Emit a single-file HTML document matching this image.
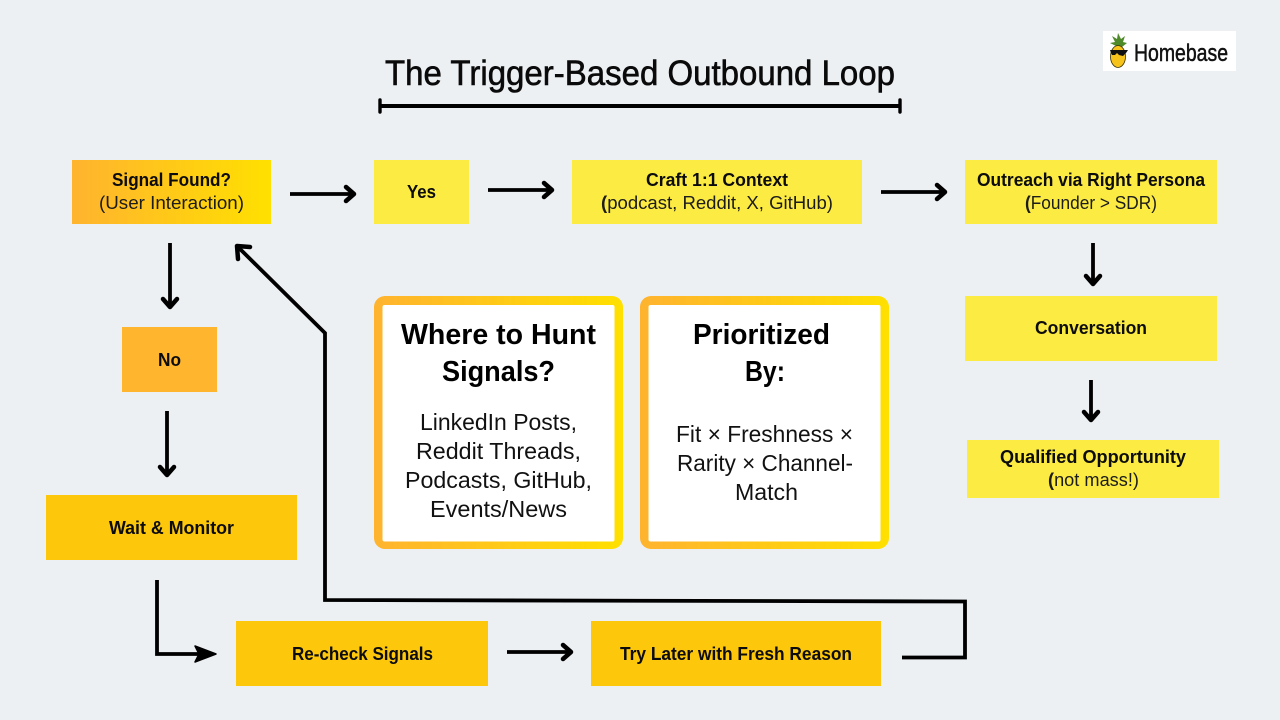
<!DOCTYPE html>
<html><head><meta charset="utf-8"><style>
html,body{margin:0;padding:0;background:#ecf0f3}
svg{display:block}
text{font-family:"Liberation Sans",sans-serif;fill:#0c0c0c}
.b{font-weight:700;font-size:18.500px}
.r{font-size:18.500px;fill:#1c1c1c}
.h{font-weight:700;font-size:29px;fill:#000}
.m{font-size:23.500px;fill:#111}
.a{fill:none;stroke:#000;stroke-width:3.800}
.h1{fill:none;stroke:#000;stroke-width:4.500;stroke-linecap:round;stroke-linejoin:round}
</style></head><body>
<svg width="1280" height="720" viewBox="0 0 1280 720" xmlns="http://www.w3.org/2000/svg">
<defs>
<linearGradient id="g"><stop offset="0" stop-color="#ffb32f"/><stop offset="1" stop-color="#ffe000"/></linearGradient>
</defs>
<rect width="1280" height="720" fill="#ecf0f3"/>

<!-- logo -->
<rect x="1103" y="31" width="133" height="40" fill="#fff"/>
<path d="M1118 47L1110 43L1115 42L1112 36L1117 39L1118 33L1121 39L1125 36L1123 42L1127 43L1122 47Z" fill="#4f8a2a"/>
<ellipse cx="1118" cy="56.500" rx="7.500" ry="11" fill="#f6c21c" stroke="#3a3000" stroke-width=".8"/>
<path d="M1110 50H1128L1126 53L1123 56L1119 55L1117 53L1115 55L1112 55L1111 53Z" fill="#111"/>
<text x="1134" y="61" font-size="24" textLength="94" lengthAdjust="spacingAndGlyphs" style="fill:#111;stroke:#111;stroke-width:.5">Homebase</text>

<!-- title -->
<text x="385" y="85" font-size="35" textLength="510" lengthAdjust="spacingAndGlyphs" style="fill:#0a0a0a;stroke:#0a0a0a;stroke-width:.6">The Trigger-Based Outbound Loop</text>
<path d="M380 106H900" stroke="#000" stroke-width="4" fill="none"/>
<path d="M380 100V112M900 100V112" stroke="#000" stroke-width="3.400" stroke-linecap="round" fill="none"/>

<!-- boxes -->
<rect x="72" y="160" width="199" height="64" fill="url(#g)"/>
<rect x="374" y="160" width="95" height="64" fill="#fceb42"/>
<rect x="572" y="160" width="290" height="64" fill="#fceb42"/>
<rect x="965" y="160" width="252" height="64" fill="#fceb42"/>
<rect x="965" y="296" width="252" height="65" fill="#fceb42"/>
<rect x="967" y="440" width="252" height="58" fill="#fceb42"/>
<rect x="122" y="327" width="95" height="65" fill="#ffb52e"/>
<rect x="46" y="495" width="251" height="65" fill="#fdc70c"/>
<rect x="236" y="621" width="252" height="65" fill="#fdc70c"/>
<rect x="591" y="621" width="290" height="65" fill="#fdc70c"/>

<!-- box text -->
<text class="b" x="112" y="186" textLength="119" lengthAdjust="spacingAndGlyphs">Signal Found?</text>
<text class="r" x="99" y="209" textLength="145" lengthAdjust="spacingAndGlyphs">(User Interaction)</text>
<text class="b" x="407" y="198" textLength="29" lengthAdjust="spacingAndGlyphs">Yes</text>
<text class="b" x="646" y="186" textLength="142" lengthAdjust="spacingAndGlyphs">Craft 1:1 Context</text>
<text class="r" x="601" y="209" textLength="232" lengthAdjust="spacingAndGlyphs"><tspan font-weight="700">(</tspan>podcast, Reddit, X, GitHub)</text>
<text class="b" x="977" y="186" textLength="228" lengthAdjust="spacingAndGlyphs">Outreach via Right Persona</text>
<text class="r" x="1025" y="209" textLength="132" lengthAdjust="spacingAndGlyphs"><tspan font-weight="700">(</tspan>Founder &gt; SDR)</text>
<text class="b" x="1035" y="334" textLength="112" lengthAdjust="spacingAndGlyphs">Conversation</text>
<text class="b" x="1000" y="463" textLength="186" lengthAdjust="spacingAndGlyphs">Qualified Opportunity</text>
<text class="r" x="1048" y="486" textLength="91" lengthAdjust="spacingAndGlyphs"><tspan font-weight="700">(</tspan>not mass!)</text>
<text class="b" x="158" y="366" textLength="23" lengthAdjust="spacingAndGlyphs">No</text>
<text class="b" x="109" y="534" textLength="125" lengthAdjust="spacingAndGlyphs">Wait &amp; Monitor</text>
<text class="b" x="292" y="660" textLength="141" lengthAdjust="spacingAndGlyphs">Re-check Signals</text>
<text class="b" x="620" y="660" textLength="232" lengthAdjust="spacingAndGlyphs">Try Later with Fresh Reason</text>

<!-- cards -->
<rect x="374" y="296" width="249" height="253" rx="11" fill="url(#g)"/>
<rect x="382.500" y="305" width="232" height="236.500" rx="2" fill="#fff"/>
<rect x="640" y="296" width="249" height="253" rx="11" fill="url(#g)"/>
<rect x="648.500" y="305" width="232" height="236.500" rx="2" fill="#fff"/>

<text class="h" x="401" y="344" textLength="195" lengthAdjust="spacingAndGlyphs">Where to Hunt</text>
<text class="h" x="442" y="381" textLength="113" lengthAdjust="spacingAndGlyphs">Signals?</text>
<text class="m" x="420" y="430" textLength="157" lengthAdjust="spacingAndGlyphs">LinkedIn Posts,</text>
<text class="m" x="416" y="459" textLength="165" lengthAdjust="spacingAndGlyphs">Reddit Threads,</text>
<text class="m" x="405" y="488" textLength="187" lengthAdjust="spacingAndGlyphs">Podcasts, GitHub,</text>
<text class="m" x="430" y="517" textLength="137" lengthAdjust="spacingAndGlyphs">Events/News</text>

<text class="h" x="693" y="344" textLength="137" lengthAdjust="spacingAndGlyphs">Prioritized</text>
<text class="h" x="745" y="381" textLength="40" lengthAdjust="spacingAndGlyphs">By:</text>
<text class="m" x="676" y="442" textLength="177" lengthAdjust="spacingAndGlyphs">Fit × Freshness ×</text>
<text class="m" x="677" y="471" textLength="176" lengthAdjust="spacingAndGlyphs">Rarity × Channel-</text>
<text class="m" x="735" y="500" textLength="63" lengthAdjust="spacingAndGlyphs">Match</text>

<!-- arrows -->
<path class="a" d="M290 194H353"/><path class="h1" d="M346 187L354 194L346 201"/>
<path class="a" d="M488 190H551"/><path class="h1" d="M544 183L552 190L544 197"/>
<path class="a" d="M881 192H944"/><path class="h1" d="M937 185L945 192L937 199"/>
<path class="a" d="M170 243V306"/><path class="h1" d="M163 299L170 307L177 299"/>
<path class="a" d="M167 411V474"/><path class="h1" d="M160 467L167 475L174 467"/>
<path class="a" d="M1093 243V283"/><path class="h1" d="M1086 276L1093 284L1100 276"/>
<path class="a" d="M1091 380V419"/><path class="h1" d="M1084 412L1091 420L1098 412"/>
<path class="a" d="M507 652H570"/><path class="h1" d="M563 645L571 652L563 659"/>
<path class="a" d="M157 580V654H205"/><path d="M195 646L216 654L195 662L199 654Z" fill="#000" stroke="#000" stroke-width="1.500" stroke-linejoin="round"/>
<path class="a" d="M902 657.500H965V601.500L325 600V333L238 247"/><path class="h1" d="M238 259L237 246L250 247"/>
</svg>
</body></html>
